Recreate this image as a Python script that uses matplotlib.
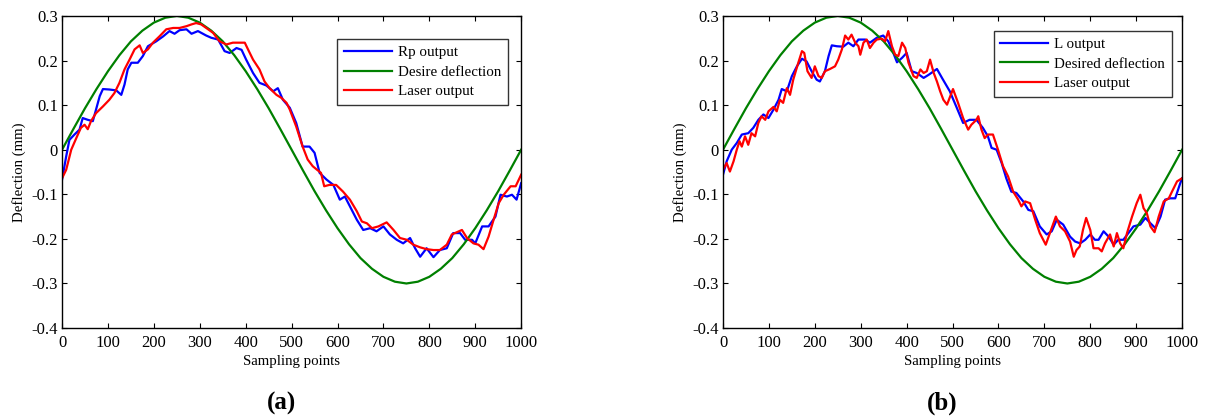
import matplotlib
matplotlib.use("Agg")
import matplotlib.pyplot as plt

plt.rcParams['font.family'] = ['Liberation Serif', 'DejaVu Serif']

########################################################################
# desired deflection, read every 25 sampling points (same in both panels)
desired_x = list(range(0, 1001, 25))
desired_y = [0, 0.047, 0.093, 0.136, 0.176, 0.212, 0.243, 0.267, 0.285, 0.296,
             0.3, 0.296, 0.285, 0.267, 0.243, 0.212, 0.176, 0.136, 0.093, 0.047,
             0, -0.047, -0.093, -0.136, -0.176, -0.212, -0.243, -0.267, -0.285, -0.296,
             -0.3, -0.296, -0.285, -0.267, -0.243, -0.212, -0.176, -0.136, -0.093, -0.047,
             0]

# panel (a): Rp output
rp_x = [0, 9, 16, 27, 38, 45, 56, 67, 74, 82, 89, 103, 118, 129, 136, 143, 151,
        165, 176, 187, 205, 220, 234, 245, 256, 271, 282, 296, 314, 325, 340,
        354, 365, 380, 391, 401, 416, 430, 445, 460, 470, 481, 496, 510, 524,
        539, 550, 561, 576, 591, 605, 616, 631, 642, 656, 671, 685, 700, 714,
        729, 743, 758, 769, 780, 794, 809, 823, 838, 852, 867, 878, 893, 900,
        915, 929, 944, 955, 969, 980, 990, 1000]
rp_y = [-0.067, -0.015, 0.022, 0.034, 0.045, 0.071, 0.067, 0.064, 0.09, 0.12,
        0.136, 0.135, 0.133, 0.123, 0.146, 0.18, 0.195, 0.195, 0.21, 0.232,
        0.243, 0.254, 0.266, 0.26, 0.268, 0.27, 0.26, 0.266, 0.256, 0.251,
        0.247, 0.221, 0.217, 0.228, 0.224, 0.202, 0.172, 0.15, 0.144, 0.131,
        0.138, 0.112, 0.094, 0.06, 0.007, 0.007, -0.007, -0.052, -0.067,
        -0.079, -0.112, -0.105, -0.135, -0.157, -0.18, -0.176, -0.183, -0.172,
        -0.19, -0.202, -0.21, -0.198, -0.221, -0.24, -0.221, -0.241, -0.225,
        -0.221, -0.187, -0.187, -0.202, -0.202, -0.21, -0.172, -0.172, -0.15,
        -0.101, -0.105, -0.101, -0.112, -0.075]

# panel (a): laser output
laser_a_x = [0, 9, 20, 31, 41, 49, 56, 63, 74, 89, 103, 114, 125, 136, 147, 158,
             169, 176, 187, 198, 212, 227, 242, 256, 271, 282, 292, 303, 314,
             329, 343, 358, 372, 387, 398, 405, 416, 430, 441, 452, 467, 478,
             489, 496, 510, 524, 535, 546, 553, 564, 571, 582, 597, 612, 627,
             642, 653, 664, 675, 689, 707, 722, 736, 751, 765, 780, 794, 809,
             823, 838, 849, 860, 871, 882, 896, 907, 918, 929, 940, 951, 962,
             977, 988, 1000]
laser_a_y = [-0.064, -0.045, 0.0, 0.026, 0.049, 0.056, 0.046, 0.064, 0.082,
             0.097, 0.112, 0.127, 0.15, 0.18, 0.202, 0.225, 0.234, 0.217,
             0.225, 0.24, 0.254, 0.27, 0.273, 0.273, 0.277, 0.281, 0.284,
             0.281, 0.273, 0.262, 0.243, 0.236, 0.24, 0.24, 0.24, 0.225, 0.202,
             0.18, 0.153, 0.138, 0.123, 0.116, 0.105, 0.09, 0.052, 0.007,
             -0.022, -0.037, -0.043, -0.052, -0.082, -0.079, -0.079, -0.094,
             -0.112, -0.138, -0.161, -0.165, -0.176, -0.172, -0.163, -0.18,
             -0.198, -0.202, -0.213, -0.219, -0.223, -0.225, -0.225, -0.213,
             -0.19, -0.185, -0.18, -0.198, -0.21, -0.213, -0.223, -0.195,
             -0.157, -0.12, -0.101, -0.082, -0.082, -0.056]

# panel (b): L output
l_x = [0, 8, 19, 30, 41, 55, 66, 77, 88, 99, 110, 121, 128, 139, 150, 161, 172,
       182, 193, 204, 211, 222, 230, 237, 248, 262, 273, 284, 295, 310, 320,
       335, 349, 360, 371, 379, 390, 400, 411, 422, 437, 448, 466, 477, 494,
       508, 523, 537, 552, 566, 577, 585, 596, 607, 617, 628, 639, 654, 665,
       676, 690, 705, 716, 727, 741, 756, 767, 778, 789, 800, 810, 818, 829,
       840, 851, 861, 872, 883, 894, 909, 920, 931, 942, 953, 963, 974, 985,
       996, 1000]
l_y = [-0.056, -0.026, 0.0, 0.015, 0.034, 0.037, 0.049, 0.067, 0.079, 0.071,
       0.09, 0.112, 0.136, 0.131, 0.165, 0.187, 0.204, 0.198, 0.176, 0.157,
       0.153, 0.176, 0.21, 0.234, 0.232, 0.231, 0.24, 0.232, 0.247, 0.247,
       0.24, 0.251, 0.256, 0.243, 0.217, 0.196, 0.206, 0.217, 0.176, 0.172,
       0.161, 0.168, 0.181, 0.161, 0.131, 0.097, 0.06, 0.067, 0.067, 0.049,
       0.03, 0.004, 0.0, -0.03, -0.064, -0.094, -0.097, -0.116, -0.135,
       -0.138, -0.172, -0.19, -0.183, -0.157, -0.168, -0.195, -0.206, -0.21,
       -0.202, -0.19, -0.202, -0.202, -0.183, -0.195, -0.213, -0.202, -0.202,
       -0.187, -0.172, -0.168, -0.153, -0.165, -0.176, -0.15, -0.112, -0.109,
       -0.109, -0.075, -0.064]

# panel (b): laser output
laser_b_x = [0, 8, 15, 23, 30, 36, 41, 48, 55, 62, 70, 77, 84, 92, 99, 110, 117,
             124, 131, 139, 146, 153, 164, 172, 177, 184, 193, 200, 208, 215,
             222, 233, 244, 251, 259, 266, 273, 280, 288, 295, 299, 306, 313,
             320, 328, 335, 346, 353, 360, 368, 375, 382, 390, 397, 404, 415,
             422, 430, 437, 444, 451, 459, 466, 473, 480, 488, 495, 501, 512,
             523, 534, 541, 552, 556, 563, 570, 577, 588, 599, 610, 621, 632,
             643, 650, 658, 669, 680, 690, 703, 712, 725, 734, 745, 756, 764,
             770, 777, 784, 791, 800, 807, 818, 825, 832, 843, 851, 858, 865,
             872, 880, 891, 901, 909, 916, 923, 931, 940, 949, 960, 971, 978,
             989, 1000]
laser_b_y = [-0.045, -0.03, -0.049, -0.026, 0.0, 0.019, 0.007, 0.03, 0.011,
             0.037, 0.03, 0.06, 0.075, 0.067, 0.086, 0.096, 0.086, 0.112, 0.105,
             0.138, 0.123, 0.157, 0.195, 0.221, 0.217, 0.176, 0.161, 0.187,
             0.165, 0.161, 0.176, 0.181, 0.187, 0.202, 0.225, 0.256, 0.247,
             0.258, 0.24, 0.232, 0.213, 0.24, 0.247, 0.228, 0.24, 0.247, 0.249,
             0.243, 0.266, 0.232, 0.213, 0.21, 0.24, 0.228, 0.195, 0.165, 0.161,
             0.18, 0.172, 0.176, 0.202, 0.172, 0.153, 0.131, 0.112, 0.101, 0.12,
             0.136, 0.105, 0.071, 0.045, 0.056, 0.067, 0.075, 0.045, 0.026,
             0.034, 0.034, 0.0, -0.037, -0.06, -0.094, -0.112, -0.127, -0.116,
             -0.12, -0.157, -0.187, -0.213, -0.187, -0.15, -0.172, -0.183,
             -0.206, -0.24, -0.225, -0.217, -0.18, -0.153, -0.18, -0.221,
             -0.221, -0.228, -0.21, -0.19, -0.217, -0.187, -0.21, -0.221,
             -0.187, -0.15, -0.12, -0.101, -0.131, -0.142, -0.172, -0.185,
             -0.15, -0.116, -0.109, -0.094, -0.071, -0.064]

x_ticks = [0, 100, 200, 300, 400, 500, 600, 700, 800, 900, 1000]
y_ticks = [-0.4, -0.3, -0.2, -0.1, 0, 0.1, 0.2, 0.3]
y_tick_labels = ['-0.4', '-0.3', '-0.2', '-0.1', '0', '0.1', '0.2', '0.3']

laser_label = "Laser output"

########################################################################

def plot_panel(ax, out_x, out_y, out_label, laser_x, laser_y, desired_label,
               legend_anchor):
    """
    Draw one panel: sensor output, desired deflection and laser output
    """
    ax.plot(out_x, out_y, color='#0000ff', lw=1.6, label=out_label)
    ax.plot(desired_x, desired_y, color='#008000', lw=1.6, label=desired_label)
    ax.plot(laser_x, laser_y, color='#ff0000', lw=1.6, label=laser_label)
    ax.set_xlim(0, 1000)
    ax.set_ylim(-0.4, 0.3)
    ax.set_xticks(x_ticks)
    ax.set_yticks(y_ticks)
    ax.set_yticklabels(y_tick_labels)
    ax.tick_params(direction='in', top=True, right=True, length=3.5,
                   width=0.8, labelsize=12)
    ax.tick_params(axis='x', pad=5)
    ax.tick_params(axis='y', pad=3)
    for s in ax.spines.values():
        s.set_linewidth(1.0)
    ax.set_xlabel("Sampling points", fontsize=10.7, labelpad=3)
    ax.set_ylabel("Deflection (mm)", fontsize=10.7, labelpad=4)
    leg = ax.legend(loc='upper right', bbox_to_anchor=legend_anchor,
                    fontsize=10.8, frameon=True, fancybox=False,
                    handlelength=3.2, handletextpad=0.4, borderpad=0.45,
                    labelspacing=0.4, borderaxespad=0)
    leg.get_frame().set_edgecolor('black')
    leg.get_frame().set_linewidth(1.0)

fig = plt.figure(figsize=(12.05, 4.19), dpi=100)
ax_a = fig.add_axes([0.0515, 0.217, 0.381, 0.745])
ax_b = fig.add_axes([0.600, 0.217, 0.381, 0.745])

plot_panel(ax_a, rp_x, rp_y, "Rp output", laser_a_x, laser_a_y,
           "Desire deflection", (0.972, 0.926))
plot_panel(ax_b, l_x, l_y, "L output", laser_b_x, laser_b_y,
           "Desired deflection", (0.978, 0.952))

fig.text(281 / 1205, 1 - 403 / 419, "(a)", fontsize=18, fontweight='bold',
         ha='center', va='center')
fig.text(942 / 1205, 1 - 403 / 419, "(b)", fontsize=18, fontweight='bold',
         ha='center', va='center')

fig.savefig("out.png", dpi=100)
